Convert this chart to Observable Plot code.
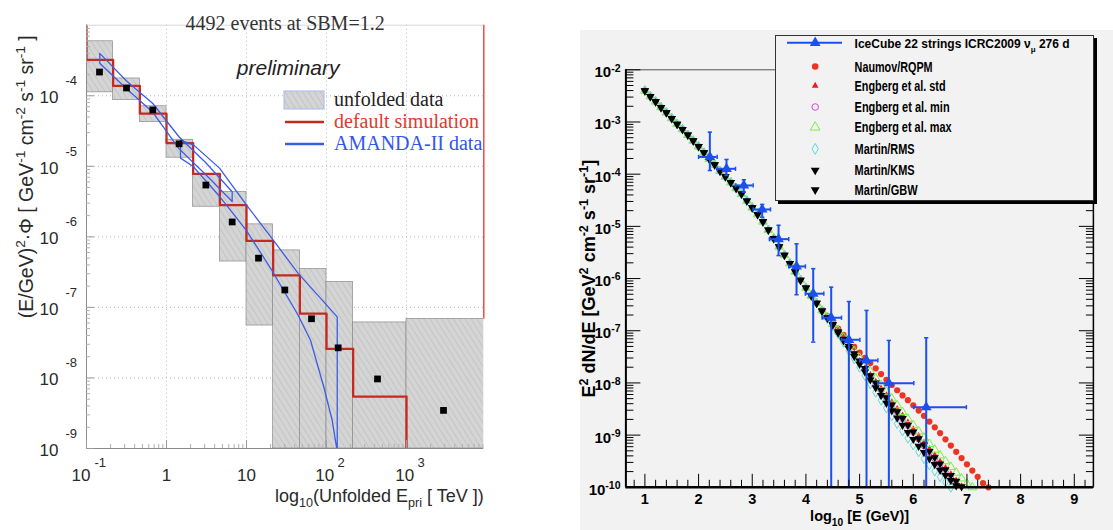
<!DOCTYPE html>
<html>
<head>
<meta charset="utf-8">
<script src="https://cdn.jsdelivr.net/npm/d3@7"></script>
<script src="https://cdn.jsdelivr.net/npm/@observablehq/plot@0.6"></script>
<style>
  html, body { margin: 0; padding: 0; background: #fff; }
  #root { position: relative; width: 1113px; height: 530px; overflow: hidden; background: #fff; }
  .abs { position: absolute; }
  #rightbg { left: 580px; top: 30px; width: 533px; height: 500px; background: #f2f2f2; }
  #leftPlot { left: 0; top: 0; }
  #rightPlot { left: 570px; top: 0; }
  #leftLegend { left: 280px; top: 85px; }
  #rightLegend { left: 775px; top: 35px; width: 317px; height: 164px; background: #f2f2f2; border: 1px solid #333; box-shadow: 3px 3px 0 0 #000; }
</style>
</head>
<body>
<div id="root">
  <svg class="abs" width="0" height="0" style="left:0;top:0">
    <defs>
      <pattern id="hatch" patternUnits="userSpaceOnUse" width="5" height="5" patternTransform="rotate(-32)">
        <rect width="5" height="5" fill="#d4d4d4"></rect>
        <line x1="0" y1="0" x2="0" y2="5" stroke="#b4b4b4" stroke-width="1"></line>
      </pattern>
    </defs>
  </svg>
  <div id="rightbg" class="abs"></div>
  <div id="leftPlot" class="abs"></div>
  <div id="rightPlot" class="abs"></div>
  <svg id="leftLegend" class="abs" width="220" height="72"></svg>
  <div id="rightLegend" class="abs"><svg id="rightLegendSvg" width="317" height="164"></svg></div>
</div>
<script>
// ================= LEFT PANEL DATA (log10 values) =================
const binEdgesLogTeV = [-1, -0.667, -0.333, 0, 0.333, 0.667, 1, 1.333, 1.667, 2, 2.333, 3, 4];
const unfoldedBoxTopLog = [-3.228, -3.755, -4.149, -4.624, -5.122, -5.362, -5.823, -6.192, -6.456, -6.638, -7.213, -7.165];
const unfoldedBoxBottomLog = [-3.952, -4.062, -4.374, -4.878, -5.573, -6.350, -7.257, -9, -9, -9, -9, -9];
const unfoldedLogE = [-0.8375, -0.5, -0.171, 0.158, 0.492, 0.821, 1.15, 1.479, 1.8125, 2.146, 2.6375, 3.4625];
const unfoldedLogFlux = [-3.664, -3.890, -4.201, -4.681, -5.266, -5.789, -6.302, -6.753, -7.161, -7.573, -8.014, -8.460];
const simUnderflowLog = -2;
const simLevelLog = [-3.492, -3.861, -4.254, -4.671, -5.108, -5.549, -6.058, -6.547, -7.089, -7.588, -8.264, -12];
const amandaLowLogE = [-0.834, -0.5, -0.171, 0.158, 0.492, 0.821, 0.821, 0.492, 0.158, -0.171, -0.5, -0.834, -0.834];
const amandaLowLogFlux = [-3.40, -3.79, -4.11, -4.585, -4.95, -5.36, -5.50, -5.12, -4.753, -4.235, -3.90, -3.54, -3.40];
const amandaHighLogE = [0.175, 0.341, 0.6625, 0.996, 1.32, 1.646, 2.134, 2.134, 2.125, 2.071, 1.966, 1.80, 1.634, 1.32, 0.996, 0.6625, 0.33, 0.175, 0.175];
const amandaHighLogFlux = [-4.628, -4.70, -5.026, -5.544, -6.024, -6.518, -7.135, -9.0, -8.98, -8.60, -8.128, -7.465, -7.087, -6.48, -5.904, -5.425, -5.00, -4.884, -4.628];
const leftYTickExp = [-9, -8, -7, -6, -5, -4];
const leftXTickValues = [0.1, 1, 10, 100, 1000];
const leftXTickBase = ["10", "1", "10", "10", "10"];
const leftXTickExp = ["-1", "", "", "2", "3"];
const leftXDomain = [0.1, 9250];
const leftYDomain = [1e-9, 1e-3];

// ================= RIGHT PANEL DATA =================
const logEGrid = [1.0,1.1,1.2,1.3,1.4,1.5,1.6,1.7,1.8,1.9,2.0,2.1,2.2,2.3,2.4,2.5,2.6,2.7,2.8,2.9,3.0,3.1,3.2,3.3,3.4,3.5,3.6,3.7,3.8,3.9,4.0,4.1,4.2,4.3,4.4,4.5,4.6,4.7,4.8,4.9,5.0,5.1,5.2,5.3,5.4,5.5,5.6,5.7,5.8,5.9,6.0,6.1,6.2,6.3,6.4,6.5,6.6,6.7,6.8,6.9,7.0,7.1,7.2,7.3,7.4];
// log10 of E^2 dN/dE where all models coincide (logE 1.0 .. 4.2)
const lowEnergyLogFlux = [-2.40,-2.51,-2.61,-2.72,-2.82,-2.93,-3.04,-3.14,-3.25,-3.36,-3.47,-3.59,-3.71,-3.82,-3.94,-4.05,-4.16,-4.27,-4.38,-4.51,-4.64,-4.77,-4.91,-5.07,-5.23,-5.39,-5.55,-5.71,-5.87,-6.03,-6.18,-6.33,-6.47];
// log10 values from logE 4.3 onwards
const naumovRQPMHigh = [-6.60,-6.72,-6.84,-6.96,-7.08,-7.20,-7.31,-7.42,-7.52,-7.62,-7.72,-7.83,-7.94,-8.04,-8.14,-8.24,-8.33,-8.43,-8.53,-8.63,-8.74,-8.85,-8.96,-9.08,-9.20,-9.32,-9.44,-9.56,-9.68,-9.80,-9.92,-10.0];
const engbergStdHigh = [-6.62,-6.75,-6.88,-7.01,-7.15,-7.29,-7.43,-7.57,-7.71,-7.84,-7.97,-8.10,-8.23,-8.36,-8.49,-8.62,-8.75,-8.88,-9.01,-9.14,-9.26,-9.38,-9.50,-9.62,-9.74,-9.86,-9.97];
const engbergMinHigh = [-6.62,-6.76,-6.89,-7.03,-7.17,-7.31,-7.45,-7.59,-7.73,-7.87,-8.01,-8.15,-8.29,-8.43,-8.56,-8.69,-8.82,-8.95,-9.08,-9.21,-9.34,-9.46,-9.58,-9.70,-9.82,-9.94];
const engbergMaxHigh = [-6.61,-6.74,-6.87,-7.00,-7.13,-7.26,-7.39,-7.52,-7.65,-7.78,-7.91,-8.04,-8.17,-8.30,-8.43,-8.56,-8.69,-8.81,-8.93,-9.05,-9.17,-9.28,-9.39,-9.50,-9.61,-9.72,-9.83,-9.93,-10.0];
const martinRMSHigh = [-6.63,-6.77,-6.91,-7.06,-7.22,-7.38,-7.54,-7.70,-7.86,-8.02,-8.18,-8.33,-8.48,-8.63,-8.78,-8.92,-9.06,-9.19,-9.32,-9.45,-9.57,-9.69,-9.80,-9.90,-10.0];
const martinKMSHigh = [-6.62,-6.76,-6.89,-7.04,-7.19,-7.34,-7.49,-7.64,-7.79,-7.94,-8.09,-8.24,-8.39,-8.53,-8.67,-8.81,-8.95,-9.08,-9.21,-9.33,-9.45,-9.56,-9.67,-9.77,-9.87,-9.97];
const martinGBWHigh = [-6.62,-6.75,-6.88,-7.02,-7.16,-7.30,-7.44,-7.58,-7.72,-7.86,-8.00,-8.14,-8.28,-8.42,-8.55,-8.68,-8.81,-8.94,-9.07,-9.19,-9.31,-9.43,-9.55,-9.66,-9.77,-9.88,-9.99];
// IceCube 22 strings unfolded points
const icLogE = [2.21, 2.52, 2.843, 3.185, 3.49, 3.825, 4.136, 4.471, 4.80, 5.129, 5.545, 6.241];
const icLogELow = [2.0, 2.347, 2.688, 3.017, 3.32, 3.68, 3.99, 4.303, 4.663, 5.005, 5.34, 6.01];
const icLogEHigh = [2.347, 2.688, 3.017, 3.34, 3.68, 3.99, 4.333, 4.663, 5.005, 5.34, 6.01, 6.99];
const icLogFlux = [-3.67, -3.897, -4.216, -4.676, -5.245, -5.768, -6.29, -6.751, -7.173, -7.569, -8.004, -8.464];
const icLogFluxUp = [-3.195, -3.718, -4.107, -4.58, -4.98, -5.335, -5.81, -6.165, -6.44, -6.611, -7.186, -7.134];
const icLogFluxDown = [-3.93, -4.025, -4.345, -4.824, -5.56, -6.31, -7.218, -11, -11, -11, -11, -11];
const rightYTickExp = [-10, -9, -8, -7, -6, -5, -4, -3, -2];
const rightXTickValues = [1, 2, 3, 4, 5, 6, 7, 8, 9];
const rightXDomain = [0.646, 9.356];
const rightYDomain = [1e-10, 1e-2];

// ================= helpers =================
const p10 = v => Math.pow(10, v);
const SANS = "'Liberation Sans', Arial, Helvetica, sans-serif";
const SERIF = "'Liberation Serif', 'Times New Roman', serif";
const NARROW = "'Liberation Sans Narrow', 'Arial Narrow', 'Liberation Sans', Arial, sans-serif";

function richText(svg, {sup = 0.4, sub = 0.3, scale = 0.7} = {}) {
  svg.querySelectorAll("text").forEach(el => {
    const t = el.textContent;
    if (!/[\^_]\{/.test(t)) return;
    const fs = parseFloat(getComputedStyle(el).fontSize) || 14;
    const re = /([\^_])\{([^}]*)\}/g;
    const parts = []; let last = 0, m;
    while ((m = re.exec(t))) {
      if (m.index > last) parts.push([t.slice(last, m.index), 0]);
      parts.push([m[2], m[1] === "^" ? -sup * fs : sub * fs]);
      last = re.lastIndex;
    }
    if (last < t.length) parts.push([t.slice(last), 0]);
    while (el.firstChild) el.removeChild(el.firstChild);
    let cur = 0;
    for (const [s, off] of parts) {
      const ts = document.createElementNS("http://www.w3.org/2000/svg", "tspan");
      ts.textContent = s;
      const d = off - cur;
      if (d) ts.setAttribute("dy", d);
      if (off) ts.setAttribute("font-size", scale * fs);
      el.appendChild(ts);
      cur = off;
    }
  });
}

// ================= LEFT PANEL =================
const boxes = unfoldedBoxTopLog.map((top, i) => ({
  x1: p10(binEdgesLogTeV[i]), x2: p10(binEdgesLogTeV[i + 1]),
  y1: p10(unfoldedBoxBottomLog[i]), y2: p10(top)
}));
const squares = unfoldedLogE.map((e, i) => ({x: p10(e), y: p10(unfoldedLogFlux[i])}));
const simPath = [{x: p10(binEdgesLogTeV[0]), y: p10(simUnderflowLog)}];
simLevelLog.forEach((l, i) => {
  simPath.push({x: p10(binEdgesLogTeV[i]), y: p10(l)}, {x: p10(binEdgesLogTeV[i + 1]), y: p10(l)});
});
const amanda = [
  ...amandaLowLogE.map((e, i) => ({band: "a", x: p10(e), y: p10(amandaLowLogFlux[i])})),
  ...amandaHighLogE.map((e, i) => ({band: "b", x: p10(e), y: p10(amandaHighLogFlux[i])}))
];
const leftXTicks = leftXTickValues.map((v, i) => ({v, base: leftXTickBase[i], exp: leftXTickExp[i]}));
const leftYMajor = leftYTickExp.map(p10);
const leftYMinor = [];
for (let e = -9; e < -3; e++) for (let k = 2; k <= 9; k++) leftYMinor.push(k * p10(e));
const leftXMinor = [];
for (let e = -1; e < 4; e++) for (let k = 2; k <= 9; k++) if (k * p10(e) < leftXDomain[1]) leftXMinor.push(k * p10(e));

const leftPlot = Plot.plot({
  width: 570, height: 530,
  marginLeft: 86, marginRight: 86.7, marginTop: 24.7, marginBottom: 82,
  style: {background: "transparent", fontFamily: SANS, color: "#222"},
  x: {type: "log", domain: leftXDomain, axis: null},
  y: {type: "log", domain: leftYDomain, axis: null},
  marks: [
    Plot.gridX(leftXTickValues, {stroke: "#b8b8b8", strokeOpacity: 1, strokeDasharray: "1,3"}),
    Plot.gridY(leftYMajor, {stroke: "#b8b8b8", strokeOpacity: 1, strokeDasharray: "1,3"}),
    Plot.rect(boxes, {x1: "x1", x2: "x2", y1: "y1", y2: "y2", fill: "url(#hatch)", stroke: "#8c8c8c", strokeWidth: 0.7, clip: true}),
    Plot.line(simPath, {x: "x", y: "y", stroke: "#c62a1f", strokeWidth: 2.3, clip: true}),
    Plot.ruleX([leftXDomain[1]], {y1: p10(unfoldedBoxTopLog[unfoldedBoxTopLog.length - 1]), y2: leftYDomain[1], stroke: "#ee4b45", strokeWidth: 1.5}),
    Plot.line(amanda, {x: "x", y: "y", z: "band", stroke: "#3b5de6", strokeWidth: 1.3, clip: true}),
    Plot.dot(squares, {x: "x", y: "y", symbol: "square", r: 3.8, fill: "#000"}),
    // frame
    Plot.ruleY([leftYDomain[1]], {stroke: "#d8d8d8"}),
    Plot.ruleX([leftXDomain[0]], {stroke: "#8a8a8a"}),
    Plot.ruleY([leftYDomain[0]], {stroke: "#8a8a8a"}),
    Plot.axisY(leftYMajor, {anchor: "left", tickSize: -8, stroke: "#9a9a9a", fill: "none", tickFormat: () => "", label: null}),
    Plot.axisY(leftYMinor, {anchor: "left", tickSize: -4, stroke: "#b0b0b0", fill: "none", tickFormat: () => "", label: null}),
    Plot.axisX(leftXTickValues, {anchor: "bottom", tickSize: -8, stroke: "#9a9a9a", fill: "none", tickFormat: () => "", label: null}),
    Plot.axisX(leftXMinor, {anchor: "bottom", tickSize: -4, stroke: "#b0b0b0", fill: "none", tickFormat: () => "", label: null}),
    // y tick labels
    Plot.text(leftYTickExp, {y: d => p10(d), frameAnchor: "left", text: () => "10", textAnchor: "end", lineAnchor: "bottom", dx: -28, dy: 7.3, fontSize: 17, fill: "#2a2a2a"}),
    Plot.text(leftYTickExp, {y: d => p10(d), frameAnchor: "left", text: d => String(d), textAnchor: "start", lineAnchor: "bottom", dx: -21, dy: -10.7, fontSize: 13, fill: "#2a2a2a"}),
    // x tick labels
    Plot.text(leftXTicks.filter(d => d.exp === ""), {x: "v", frameAnchor: "bottom", text: "base", textAnchor: "middle", lineAnchor: "bottom", dy: 32, fontSize: 17, fill: "#2a2a2a"}),
    Plot.text(leftXTicks.filter(d => d.exp.length > 1), {x: "v", frameAnchor: "bottom", text: "base", textAnchor: "end", lineAnchor: "bottom", dx: 4, dy: 32, fontSize: 17, fill: "#2a2a2a"}),
    Plot.text(leftXTicks.filter(d => d.exp.length > 1), {x: "v", frameAnchor: "bottom", text: "exp", textAnchor: "start", lineAnchor: "bottom", dx: 8, dy: 18, fontSize: 13, fill: "#2a2a2a"}),
    Plot.text(leftXTicks.filter(d => d.exp.length === 1), {x: "v", frameAnchor: "bottom", text: "base", textAnchor: "end", lineAnchor: "bottom", dx: 7.6, dy: 32, fontSize: 17, fill: "#2a2a2a"}),
    Plot.text(leftXTicks.filter(d => d.exp.length === 1), {x: "v", frameAnchor: "bottom", text: "exp", textAnchor: "start", lineAnchor: "bottom", dx: 11, dy: 18, fontSize: 13, fill: "#2a2a2a"}),
    // titles
    Plot.text(["4492 events at SBM=1.2"], {frameAnchor: "top", text: d => d, dy: -9.5, fontFamily: SERIF, fontSize: 20, fill: "#333"}),
    Plot.text(["preliminary"], {frameAnchor: "top", text: d => d, dx: 3, dy: 35, fontStyle: "italic", fontSize: 21, fill: "#222"}),
    Plot.text(["log_{10}(Unfolded E_{pri} [ TeV ])"], {frameAnchor: "bottom-right", text: d => d, textAnchor: "end", lineAnchor: "bottom", dy: 53, fontSize: 18, fill: "#2a2a2a"}),
    Plot.text(["(E/GeV)^{2}·Φ [ GeV^{-1} cm^{-2} s^{-1} sr^{-1} ]"], {frameAnchor: "top-left", text: d => d, rotate: -90, textAnchor: "end", dx: -67, dy: 10, fontSize: 19.5, fill: "#2a2a2a"})
  ]
});
document.getElementById("leftPlot").appendChild(leftPlot);
richText(leftPlot, {sup: 0.42, sub: 0.32, scale: 0.7});

// ================= RIGHT PANEL =================
const models = [
  {name: "Naumov/RQPM", high: naumovRQPMHigh},
  {name: "Engberg et al. std", high: engbergStdHigh},
  {name: "Engberg et al. min", high: engbergMinHigh},
  {name: "Engberg et al. max", high: engbergMaxHigh},
  {name: "Martin/RMS", high: martinRMSHigh},
  {name: "Martin/KMS", high: martinKMSHigh},
  {name: "Martin/GBW", high: martinGBWHigh}
];
const modelPts = {};
for (const m of models) {
  const ys = lowEnergyLogFlux.concat(m.high);
  modelPts[m.name] = ys.map((v, i) => ({x: logEGrid[i], y: p10(v)}));
}
const ic = icLogE.map((e, i) => ({
  x: e, x1: icLogELow[i], x2: icLogEHigh[i],
  y: p10(icLogFlux[i]), y1: p10(icLogFluxDown[i]), y2: p10(icLogFluxUp[i])
}));
const vbar = {draw(ctx, size) { const h = Math.sqrt(size) / 2; ctx.moveTo(0, -h); ctx.lineTo(0, h); }};
const hbar = {draw(ctx, size) { const h = Math.sqrt(size) / 2; ctx.moveTo(-h, 0); ctx.lineTo(h, 0); }};
const rightYMajor = rightYTickExp.map(p10);
const rightYMinor = [];
for (let e = -10; e < -2; e++) for (let k = 2; k <= 9; k++) rightYMinor.push(k * p10(e));
const rightXMinor = [];
for (let v = 0.8; v < 9.35; v += 0.2) { const r = Math.round(v * 10) / 10; if (Math.abs(r - Math.round(r)) > 0.01) rightXMinor.push(r); }
const BLUE = "#1a4ff0";

const rightPlot = Plot.plot({
  width: 543, height: 530,
  marginLeft: 55.4, marginRight: 20.1, marginTop: 69.3, marginBottom: 43.2,
  style: {background: "transparent", fontFamily: NARROW, color: "#000"},
  x: {domain: rightXDomain, axis: null},
  y: {type: "log", domain: rightYDomain, axis: null},
  marks: [
    Plot.dot(modelPts["Naumov/RQPM"], {x: "x", y: "y", r: 3.1, fill: "#ee3322", stroke: "none"}),
    Plot.dot(modelPts["Engberg et al. std"], {x: "x", y: "y", symbol: "triangle", r: 2.3, fill: "#e81f1f", stroke: "none"}),
    Plot.dot(modelPts["Engberg et al. min"], {x: "x", y: "y", symbol: "circle", r: 2.8, fill: "none", stroke: "#dd44e6", strokeWidth: 1}),
    Plot.dot(modelPts["Engberg et al. max"], {x: "x", y: "y", symbol: "triangle", r: 3.2, fill: "none", stroke: "#7aee4a", strokeWidth: 1}),
    Plot.dot(modelPts["Martin/RMS"], {x: "x", y: "y", symbol: "diamond", r: 3, fill: "none", stroke: "#5fd8de", strokeWidth: 1}),
    Plot.dot(modelPts["Martin/KMS"], {x: "x", y: "y", symbol: "triangle", rotate: 180, r: 3.1, fill: "#000", stroke: "none"}),
    Plot.dot(modelPts["Martin/GBW"], {x: "x", y: "y", symbol: "triangle", rotate: 180, r: 3.1, fill: "#000", stroke: "none"}),
    // IceCube error bars
    Plot.ruleX(ic, {x: "x", y1: "y1", y2: "y2", stroke: BLUE, strokeWidth: 2, clip: true}),
    Plot.ruleY(ic, {y: "y", x1: "x1", x2: "x2", stroke: BLUE, strokeWidth: 2}),
    Plot.dot(ic, {x: "x1", y: "y", symbol: vbar, r: 2.4, stroke: BLUE, strokeWidth: 1.5}),
    Plot.dot(ic, {x: "x2", y: "y", symbol: vbar, r: 2.4, stroke: BLUE, strokeWidth: 1.5}),
    Plot.dot(ic.filter(d => d.y1 >= rightYDomain[0]), {x: "x", y: "y1", symbol: hbar, r: 2.4, stroke: BLUE, strokeWidth: 1.5}),
    Plot.dot(ic, {x: "x", y: "y2", symbol: hbar, r: 2.4, stroke: BLUE, strokeWidth: 1.5}),
    Plot.dot(ic, {x: "x", y: "y", symbol: "triangle", r: 4, fill: BLUE, stroke: "none"}),
    // frame
    Plot.ruleY([rightYDomain[1]], {stroke: "#555", strokeWidth: 1}),
    Plot.ruleX([rightXDomain[1]], {stroke: "#000", strokeWidth: 1.5}),
    Plot.ruleX([rightXDomain[0]], {stroke: "#000", strokeWidth: 2}),
    Plot.ruleY([rightYDomain[0]], {stroke: "#000", strokeWidth: 2.5}),
    Plot.axisY(rightYMajor, {anchor: "left", tickSize: -15, stroke: "#000", fill: "none", tickFormat: () => "", label: null}),
    Plot.axisY(rightYMinor, {anchor: "left", tickSize: -8, stroke: "#000", fill: "none", tickFormat: () => "", label: null}),
    Plot.axisY(rightYMajor, {anchor: "right", tickSize: -15, stroke: "#000", fill: "none", tickFormat: () => "", label: null}),
    Plot.axisY(rightYMinor, {anchor: "right", tickSize: -8, stroke: "#000", fill: "none", tickFormat: () => "", label: null}),
    Plot.axisX(rightXTickValues, {anchor: "bottom", tickSize: -13, stroke: "#000", fill: "none", tickFormat: () => "", label: null}),
    Plot.axisX(rightXMinor, {anchor: "bottom", tickSize: -7, stroke: "#000", fill: "none", tickFormat: () => "", label: null}),
    // tick labels
    Plot.text(rightYTickExp, {y: d => p10(d), frameAnchor: "left", text: d => `10^{${d}}`, textAnchor: "end", lineAnchor: "bottom", dx: -5.4, dy: 7.4, fontSize: 15, fontWeight: "bold", fill: "#000"}),
    Plot.text(rightXTickValues, {x: d => d, frameAnchor: "bottom", text: d => String(d), textAnchor: "middle", lineAnchor: "bottom", dy: 16.5, fontSize: 14.5, fontWeight: "bold", fill: "#000"}),
    // titles
    Plot.text(["log_{10} [E (GeV)]"], {frameAnchor: "bottom", text: d => d, textAnchor: "middle", lineAnchor: "bottom", dy: 33.5, fontSize: 14.5, fontWeight: "bold", fill: "#000"}),
    Plot.text(["E^{2} dN/dE [GeV^{2} cm^{-2} s^{-1} sr^{-1}]"], {frameAnchor: "left", text: d => d, rotate: -90, textAnchor: "middle", dx: -36.4, fontSize: 18, fontWeight: "bold", fill: "#000"})
  ]
});
document.getElementById("rightPlot").appendChild(rightPlot);
richText(rightPlot, {sup: 0.38, sub: 0.35, scale: 0.7});

// ================= LEGENDS =================
const leftLegendItems = [
  {label: "unfolded data", kind: "box", color: "#222"},
  {label: "default simulation", kind: "line", stroke: "#c62a1f", color: "#e03a2a"},
  {label: "AMANDA-II data", kind: "line", stroke: "#3b5de6", color: "#3355ee"}
];
{
  const g = d3.select("#leftLegend");
  leftLegendItems.forEach((it, i) => {
    const cy = 15 + i * 22;
    if (it.kind === "box") g.append("rect").attr("x", 4).attr("y", cy - 9).attr("width", 40).attr("height", 18).attr("fill", "url(#hatch)").attr("stroke", "#a8b8f0");
    else g.append("line").attr("x1", 5).attr("x2", 44).attr("y1", cy).attr("y2", cy).attr("stroke", it.stroke).attr("stroke-width", 2.5);
    g.append("text").attr("x", 54).attr("y", cy + 6).attr("font-family", SERIF).attr("font-size", 20).attr("fill", it.color).text(it.label);
  });
}
const rightLegendItems = [
  {label: "IceCube 22 strings ICRC2009 ν", sub: "μ", tail: " 276 d", type: d3.symbolTriangle, r: 4, fill: BLUE, line: true},
  {label: "Naumov/RQPM", type: d3.symbolCircle, r: 3.3, fill: "#ee3322", width: 78},
  {label: "Engberg et al. std", type: d3.symbolTriangle, r: 2.5, fill: "#e81f1f", width: 91},
  {label: "Engberg et al. min", type: d3.symbolCircle, r: 3.3, fill: "none", stroke: "#dd44e6", width: 95},
  {label: "Engberg et al. max", type: d3.symbolTriangle, r: 3.6, fill: "none", stroke: "#7aee4a", width: 97},
  {label: "Martin/RMS", type: d3.symbolDiamond, r: 3.3, fill: "none", stroke: "#5fd8de", width: 60},
  {label: "Martin/KMS", type: d3.symbolTriangle, r: 3.3, fill: "#000", rot: 180, width: 60},
  {label: "Martin/GBW", type: d3.symbolTriangle, r: 3.3, fill: "#000", rot: 180, width: 63}
];
const rightLegendRows = [6.8, 30.5, 49.7, 71, 91.3, 112.9, 134.2, 153.8];
{
  const g = d3.select("#rightLegendSvg");
  rightLegendItems.forEach((it, i) => {
    const cy = rightLegendRows[i];
    if (it.line) g.append("line").attr("x1", 11).attr("x2", 66).attr("y1", cy).attr("y2", cy).attr("stroke", BLUE).attr("stroke-width", 2);
    g.append("path").attr("d", d3.symbol(it.type, Math.PI * it.r * it.r)())
      .attr("transform", `translate(39.2,${cy})` + (it.rot ? ` rotate(${it.rot})` : ""))
      .attr("fill", it.fill).attr("stroke", it.stroke || "none").attr("stroke-width", 1);
    const t = g.append("text").attr("x", 78.6).attr("y", cy + 5)
      .attr("font-family", NARROW).attr("font-weight", "bold").attr("fill", "#000");
    if (it.sub) {
      t.attr("font-size", 12);
      t.append("tspan").text(it.label);
      t.append("tspan").attr("dy", 4).attr("font-size", 8).text(it.sub);
      t.append("tspan").attr("dy", -4).text(it.tail);
    } else {
      t.attr("font-size", 14).attr("textLength", it.width).attr("lengthAdjust", "spacingAndGlyphs").text(it.label);
    }
  });
}
</script>
</body>
</html>
